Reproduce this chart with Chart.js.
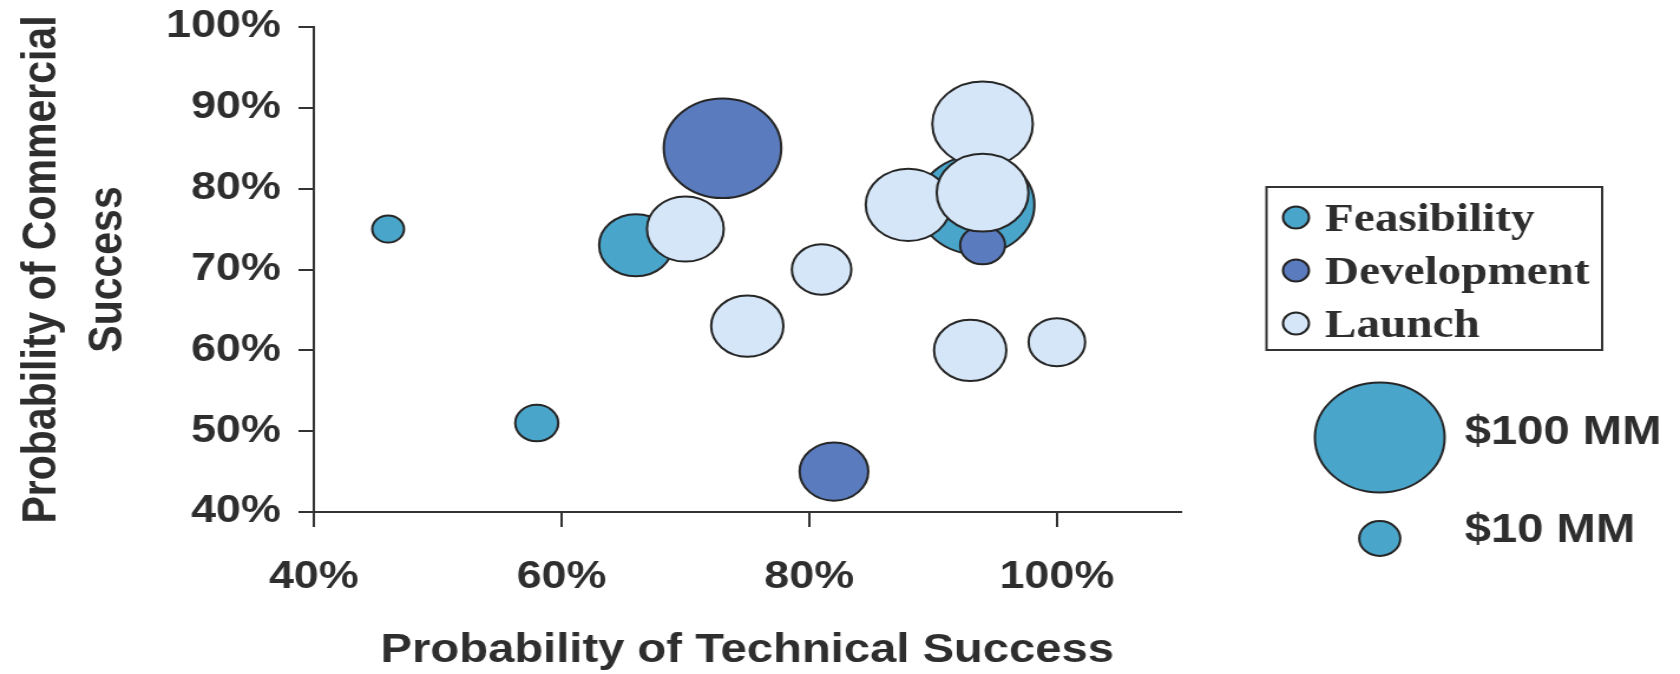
<!DOCTYPE html>
<html>
<head>
<meta charset="utf-8">
<script src="https://cdn.jsdelivr.net/npm/chart.js@4.4.1/dist/chart.umd.min.js"></script>
<style>
  html, body { margin: 0; padding: 0; background: #ffffff; overflow: hidden; }
  #c { display: block; width: 1680px !important; height: 674px !important; }
</style>
</head>
<body>
<canvas id="c" width="1424" height="674" style="width:1680px;height:674px"></canvas>
<script>
// ---- data ----
const seriesNames = ['Feasibility', 'Development', 'Launch'];

const feasibilityX     = [46, 58, 66, 93.5];
const feasibilityY     = [75, 51, 73, 78];
const feasibilityValue = [6, 11, 32, 80];      // $MM

const developmentX     = [73, 82, 94];
const developmentY     = [85, 45, 73];
const developmentValue = [82, 28, 12];         // $MM

const launchX     = [70, 81, 75, 88, 94, 94, 93, 100];
const launchY     = [75, 70, 63, 78, 88, 79.5, 60, 61];
const launchValue = [35, 21, 31, 43, 60, 50, 31, 19]; // $MM

const xTickValues = [40, 60, 80, 100];
const yTickValues = [40, 50, 60, 70, 80, 90, 100];

const sizeLegendValues = [100, 10];
const sizeLegendLabels = ['$100 MM', '$10 MM'];

// ---- styling ----
const COLORS = ['#4aa5ca', '#5a7cbf', '#d5e6f8'];
const OUTLINE = '#262626';
const TEXT = '#2e2e2e';
const SANS = '"Liberation Sans", Arial, Helvetica, sans-serif';
const SERIF = '"Liberation Serif", "Times New Roman", serif';
const R_PER_SQRT = 5.5; // bubble area proportional to $ value
const radiusFor = v => R_PER_SQRT * Math.sqrt(v);

function points(xs, ys, vs) {
  return xs.map((x, i) => ({ x: x, y: ys[i], r: radiusFor(vs[i]), v: vs[i] }));
}

const datasets = [
  { label: seriesNames[0], data: points(feasibilityX, feasibilityY, feasibilityValue), order: 3 },
  { label: seriesNames[1], data: points(developmentX, developmentY, developmentValue), order: 2 },
  { label: seriesNames[2], data: points(launchX, launchY, launchValue), order: 1 }
].map((d, i) => Object.assign(d, {
  backgroundColor: COLORS[i],
  borderColor: OUTLINE,
  borderWidth: 2,
  hoverBorderWidth: 2,
  clip: false
}));

const pct = v => v + '%';

const legendPlugin = {
  id: 'stageAndSizeLegend',
  afterDraw(chart) {
    const ctx = chart.ctx;
    ctx.save();
    // series legend box
    ctx.lineWidth = 2;
    ctx.strokeStyle = '#333';
    ctx.strokeRect(1073.5, 187, 284.5, 163);
    const rowY = [217.5, 270.5, 323.5];
    chart.data.datasets.forEach((ds, i) => {
      ctx.beginPath();
      ctx.arc(1098.5, rowY[i], 11, 0, Math.PI * 2);
      ctx.fillStyle = ds.backgroundColor;
      ctx.fill();
      ctx.lineWidth = 2;
      ctx.strokeStyle = OUTLINE;
      ctx.stroke();
      ctx.fillStyle = TEXT;
      ctx.font = 'bold 40px ' + SERIF;
      ctx.textAlign = 'left';
      ctx.textBaseline = 'alphabetic';
      ctx.fillText(ds.label, 1123, rowY[i] + 13);
    });
    // size legend
    const sizeY = [437.5, 538.5];
    const textBase = [443.5, 542];
    sizeLegendValues.forEach((v, i) => {
      ctx.beginPath();
      ctx.arc(1169.5, sizeY[i], radiusFor(v), 0, Math.PI * 2);
      ctx.fillStyle = COLORS[0];
      ctx.fill();
      ctx.lineWidth = 2;
      ctx.strokeStyle = OUTLINE;
      ctx.stroke();
      ctx.fillStyle = TEXT;
      ctx.font = 'bold 40px ' + SANS;
      ctx.textAlign = 'left';
      ctx.textBaseline = 'alphabetic';
      ctx.fillText(sizeLegendLabels[i], 1241.5, textBase[i]);
    });
    ctx.restore();
  }
};

new Chart(document.getElementById('c'), {
  type: 'bubble',
  data: { datasets: datasets },
  plugins: [legendPlugin],
  options: {
    responsive: false,
    devicePixelRatio: 1,
    animation: false,
    events: [],
    layout: { autoPadding: false, padding: { left: 0, right: 423.2, top: 27, bottom: 0 } },
    plugins: {
      legend: { display: false },
      tooltip: { enabled: false }
    },
    scales: {
      x: {
        type: 'linear',
        min: 40,
        max: 110,
        afterFit: s => { s.height = 162; s.paddingLeft = 0; s.paddingRight = 0; },
        afterBuildTicks: s => { s.ticks = xTickValues.map(v => ({ value: v })); },
        ticks: {
          callback: pct,
          font: { family: SANS, size: 38, weight: 'bold' },
          color: TEXT,
          padding: 28,
          maxRotation: 0,
          autoSkip: false
        },
        grid: { drawOnChartArea: false, drawTicks: true, tickLength: 15, color: '#333', lineWidth: 2 },
        border: { display: true, color: '#333', width: 2 },
        title: {
          display: true,
          text: 'Probability of Technical Success',
          font: { family: SANS, size: 40, weight: 'bold', lineHeight: 1.15 },
          color: TEXT,
          padding: { top: 0, bottom: 0 }
        }
      },
      y: {
        type: 'linear',
        min: 40,
        max: 100,
        afterFit: s => { s.width = 266; s.paddingTop = 0; s.paddingBottom = 0; },
        afterBuildTicks: s => { s.ticks = yTickValues.map(v => ({ value: v })); },
        ticks: {
          callback: pct,
          font: { family: SANS, size: 38, weight: 'bold' },
          color: TEXT,
          padding: 15,
          autoSkip: false
        },
        grid: { drawOnChartArea: false, drawTicks: true, tickLength: 13, color: '#333', lineWidth: 2 },
        border: { display: true, color: '#333', width: 2 },
        title: {
          display: true,
          text: ['Probability of Commercial', 'Success'],
          font: { family: SANS, size: 41, weight: 'bold', lineHeight: 1.38 },
          color: TEXT,
          padding: { top: 7, bottom: 0 }
        }
      }
    }
  }
});
</script>
</body>
</html>
